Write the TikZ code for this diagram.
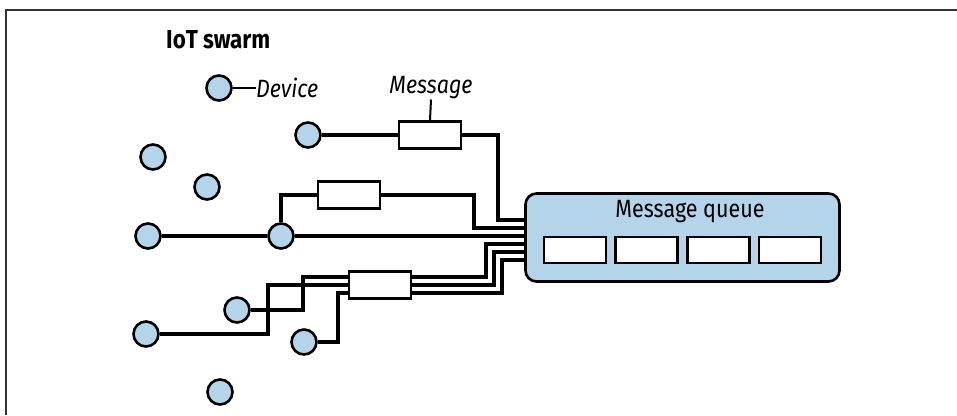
\documentclass[tikz,border=0pt]{standalone}
\usepackage{fontspec}
\setmainfont[FakeStretch=0.86]{Fira Sans}
\usepackage{tikz}
\usetikzlibrary{calc}
\usetikzlibrary{positioning}
\definecolor{devblue}{HTML}{B4D4EA}
\definecolor{framegray}{HTML}{333333}
\tikzset{
  dev/.style={circle, draw=black, fill=devblue, line width=2.6pt, minimum size=25pt, inner sep=0pt},
  msgbox/.style={rectangle, draw=black, fill=white, line width=2.6pt, minimum width=62pt, minimum height=27pt, inner sep=0pt},
  wire/.style={draw=black, line width=3.2pt, line cap=butt, line join=miter},
  leader/.style={draw=black, line width=2pt},
  lbl/.style={font=\fontsize{25}{28}\selectfont, inner sep=0pt},
}
\begin{document}
\begin{tikzpicture}
	[x=1pt, y=-1pt]
	\useasboundingbox (0,0) rectangle (957,415);
	\draw[framegray, line width=2pt] (6,415) -- (6,10) -- (957,10);
	\node[lbl, anchor=west, font=\fontsize{26}{30}\selectfont\bfseries] (title) at (166,40) {IoT swarm};
	% legend
	\node[dev] (legdev) at (219,88) {};
	\node[lbl, anchor=west, font=\fontsize{25}{28}\selectfont\itshape] (devlbl) at (256,88) {Device};
	\draw[leader] (legdev) -- (devlbl.west);
	\node[lbl, font=\fontsize{25}{28}\selectfont\itshape] (msglbl) at (431,88) {Message};
	% queue
	\node[rectangle, rounded corners=11pt, draw=black, fill=devblue, line width=2.6pt, minimum width=314pt, minimum height=88pt] (queue) at (682.5,237.5) {};
	\node[lbl] (qlbl) at (690,212) {Message queue};
	\foreach \i in {0,...,3}
		\node[msgbox, minimum height=26pt] (slot\i) at (575+71.7*\i,250) {};
	\foreach \k [count=\n] in {220,228,236,244,252,260}
		\coordinate (in\n) at (queue.west |- 0,\k);
	% devices
	\node[dev] (d1) at (308,135) {};
	\node[dev] (da) at (153,157) {};
	\node[dev] (db) at (207,187) {};
	\node[dev] (dc) at (148,236) {};
	\node[dev] (dd) at (281,236) {};
	\node[dev] (de) at (237,310) {};
	\node[dev] (df) at (146,334) {};
	\node[dev] (dg) at (304,342) {};
	\node[dev] (dh) at (220,392) {};
	% messages
	\node[msgbox] (m1) at (430,135) {};
	\node[msgbox] (m2) at (349,195) {};
	\node[msgbox] (m3) at (380,285) {};
	\draw[leader] (msglbl.south) -- (m1.north);
	% wires
	\draw[wire] (d1) -- (m1);
	\draw[wire] (m1.east) -| (498,220) -- (in1);
	\draw[wire] (dd.north) |- (m2.west);
	\draw[wire] (m2.east) -| (474,228) -- (in2);
	\draw[wire] (dc) -- (dd);
	\draw[wire] (dd) -- (in3);
	\draw[wire] (de.east) -| (303,277) -- ([yshift=8pt]m3.west);
	\draw[wire] (df.east) -| (268,285) -- (m3.west);
	\draw[wire] (dg.east) -| (338,293) -- ([yshift=-8pt]m3.west);
	\draw[wire] ([yshift=8pt]m3.east) -| (486,244) -- (in4);
	\draw[wire] (m3.east) -| (494,252) -- (in5);
	\draw[wire] ([yshift=-8pt]m3.east) -| (502,260) -- (in6);
\end{tikzpicture}
\end{document}
